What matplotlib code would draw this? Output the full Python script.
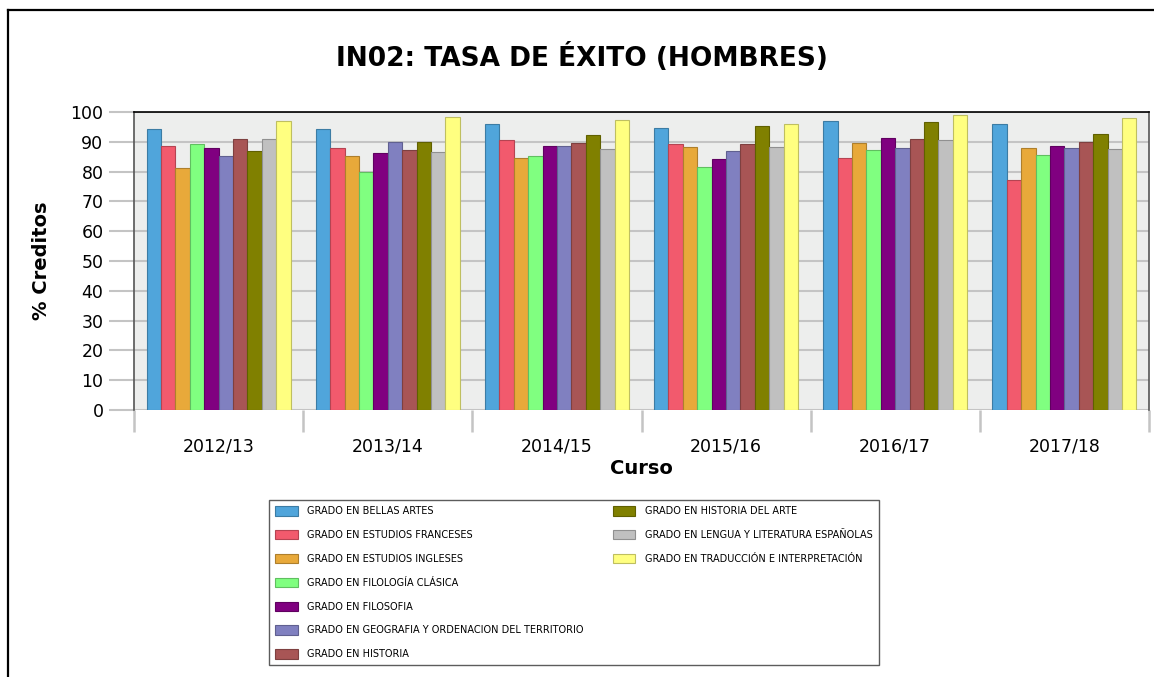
"""IN02: tasa de exito (hombres) - grouped bar chart per degree and course."""

import numpy as np
import matplotlib
matplotlib.use('Agg')
import matplotlib.pyplot as plt
from matplotlib.colors import to_rgb
from matplotlib.lines import Line2D
from matplotlib.patches import Patch

CURSOS = ['2012/13', '2013/14', '2014/15', '2015/16', '2016/17', '2017/18']
GRADOS = [
    'GRADO EN BELLAS ARTES',
    'GRADO EN ESTUDIOS FRANCESES',
    'GRADO EN ESTUDIOS INGLESES',
    'GRADO EN FILOLOGÍA CLÁSICA',
    'GRADO EN FILOSOFIA',
    'GRADO EN GEOGRAFIA Y ORDENACION DEL TERRITORIO',
    'GRADO EN HISTORIA',
    'GRADO EN HISTORIA DEL ARTE',
    'GRADO EN LENGUA Y LITERATURA ESPAÑOLAS',
    'GRADO EN TRADUCCIÓN E INTERPRETACIÓN',
]
COLORES = ['#50A5DB', '#F25A6D', '#E8A93A', '#80FF80', '#800080',
           '#8080C0', '#A85555', '#808000', '#C0C0C0', '#FFFF80']

# one list per degree, one value per course
bellas_artes = [94.3, 94.3, 96.0, 94.6, 97.1, 96.0]
est_franceses = [88.5, 87.8, 90.6, 89.1, 84.7, 77.2]
est_ingleses = [81.2, 85.1, 84.7, 88.4, 89.7, 87.9]
filologia_clasica = [89.3, 80.0, 85.2, 81.5, 87.1, 85.6]
filosofia = [87.9, 86.1, 88.7, 84.1, 91.3, 88.6]
geografia = [85.3, 89.9, 88.6, 86.9, 87.8, 88.0]
historia = [90.8, 87.4, 89.6, 89.1, 90.8, 90.0]
historia_arte = [87.0, 90.0, 92.3, 95.2, 96.6, 92.6]
lengua_literatura = [91.1, 86.7, 87.7, 88.4, 90.6, 87.7]
traduccion = [97.0, 98.3, 97.3, 96.0, 99.0, 98.0]

SERIES = [bellas_artes, est_franceses, est_ingleses, filologia_clasica, filosofia,
          geografia, historia, historia_arte, lengua_literatura, traduccion]

W_PX, H_PX = 1154, 677
GRID_COLOR = '#C4C4C4'

fig = plt.figure(figsize=(W_PX / 100, H_PX / 100), dpi=100)
fig.patch.set_facecolor('white')

# outer frame (top and left edges visible)
fig.add_artist(Line2D([8 / W_PX, 1.0], [1 - 10 / H_PX, 1 - 10 / H_PX],
                      transform=fig.transFigure, color='black', lw=1.6))
fig.add_artist(Line2D([8 / W_PX, 8 / W_PX], [0.0, 1 - 10 / H_PX],
                      transform=fig.transFigure, color='black', lw=1.6))

ax = fig.add_axes([134 / W_PX, 1 - 410 / H_PX, 1015 / W_PX, 298 / H_PX])
ax.set_facecolor('#EDEEED')

n = len(SERIES)
bar_w = 0.852 / n
x = np.arange(len(CURSOS))
for j, (vals, col, name) in enumerate(zip(SERIES, COLORES, GRADOS)):
    edge = tuple(c * 0.75 for c in to_rgb(col))
    ax.bar(x + (j - (n - 1) / 2) * bar_w, vals, width=bar_w, color=col,
           edgecolor=edge, linewidth=0.8, label=name, zorder=3)

ax.set_xlim(-0.5, len(CURSOS) - 0.5)
ax.set_ylim(0, 100)
ax.set_yticks(np.arange(0, 101, 10))
ax.yaxis.grid(True, color=GRID_COLOR, lw=1.5, zorder=0)
ax.set_axisbelow(True)
ax.tick_params(axis='y', length=18, width=1.5, color=GRID_COLOR,
               labelsize=12.5, pad=4)

ax.set_xticks(x)
ax.set_xticklabels(CURSOS, fontsize=12.5)
ax.set_xticks(np.arange(-0.5, len(CURSOS)), minor=True)
ax.tick_params(axis='x', which='major', length=0, pad=19.5)
ax.tick_params(axis='x', which='minor', length=16, width=1.8, color=GRID_COLOR)

ax.spines['top'].set_color('black')
ax.spines['top'].set_linewidth(1.2)
for side in ('left', 'right'):
    ax.spines[side].set_color('#555555')
    ax.spines[side].set_linewidth(1.2)
ax.spines['bottom'].set_visible(False)

ax.set_xlabel('Curso', fontsize=14, fontweight='bold', labelpad=3)
ax.set_ylabel('% Creditos', fontsize=14, fontweight='bold', labelpad=14)

fig.text(582 / W_PX, 1 - 58 / H_PX, 'IN02: TASA DE ÉXITO (HOMBRES)',
         ha='center', va='center', fontsize=19, fontweight='bold')

# legend: 7 entries in the first column, 3 in the second
handles, labels = ax.get_legend_handles_labels()
blank = Patch(facecolor='none', edgecolor='none')
handles = handles + [blank] * 4
labels = labels + [''] * 4
leg = fig.legend(handles, labels, ncol=2, loc='upper left',
                 bbox_to_anchor=(269 / W_PX, 1 - 500 / H_PX),
                 fontsize=7, frameon=True, fancybox=False,
                 edgecolor='#333333', handlelength=2.3, handleheight=1.1,
                 labelspacing=1.42, columnspacing=3.0, borderpad=0.65,
                 handletextpad=1.0, borderaxespad=0)
leg.get_frame().set_linewidth(1.0)

fig.savefig('out.png', dpi=100)
